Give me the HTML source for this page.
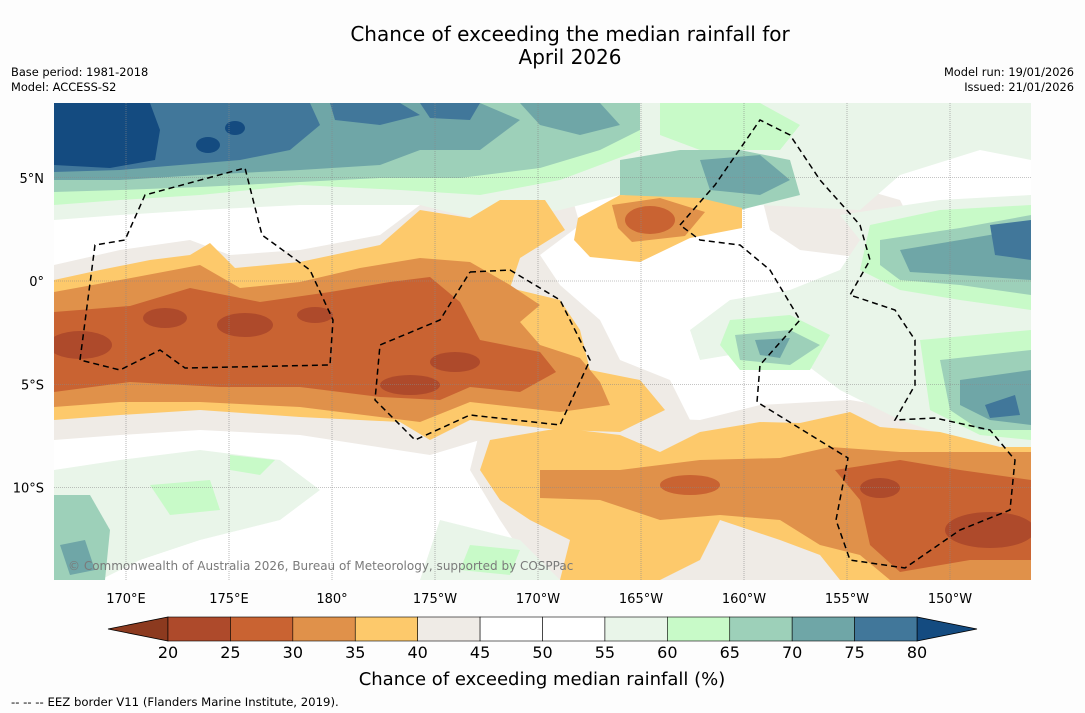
<!DOCTYPE html>
<html><head><meta charset="utf-8">
<style>
body{margin:0;background:#fdfdfd;width:1085px;height:713px;overflow:hidden;font-family:"DejaVu Sans","Liberation Sans",sans-serif;}
svg{position:absolute;left:0;top:0;font-family:"DejaVu Sans","Liberation Sans",sans-serif;}
</style></head>
<body>
<svg id="chart" width="1085" height="713" viewBox="0 0 1085 713">
<text x="570" y="41" font-size="20" text-anchor="middle" fill="#000">Chance of exceeding the median rainfall for</text>
<text x="570" y="64" font-size="20" text-anchor="middle" fill="#000">April 2026</text>
<text x="11" y="76" font-size="11.4">Base period: 1981-2018</text>
<text x="11" y="91" font-size="11.4">Model: ACCESS-S2</text>
<text x="1074" y="76" font-size="11.4" text-anchor="end">Model run: 19/01/2026</text>
<text x="1074" y="91" font-size="11.4" text-anchor="end">Issued: 21/01/2026</text>
<defs><clipPath id="mc"><rect x="54" y="103" width="977" height="477"/></clipPath></defs>
<g clip-path="url(#mc)">
<rect x="54" y="103" width="977" height="477" fill="#ffffff"/>
<g fill="#efebe6">
<path d="M54,265 L120,250 L190,240 L230,255 L300,250 L380,235 L420,205 L470,205 L500,188 L570,190 L580,225 L540,255 L560,285 L600,320 L620,360 L670,380 L690,420 L650,445 L560,445 L480,440 L430,455 L300,435 L200,430 L120,435 L54,440Z"/>
<path d="M480,430 L560,415 L700,420 L760,405 L850,400 L940,415 L1031,430 L1031,580 L540,580 L500,520 L470,470Z"/>
<path d="M760,190 L830,180 L900,200 L920,240 L880,260 L800,250 L770,230Z"/>
<path d="M1000,103 L1031,103 L1031,140 L1000,140Z"/>
<path d="M900,280 L960,275 L1000,300 L960,330 L900,320Z"/>
</g>
<g fill="#e9f5e9">
<path d="M54,103 L1031,103 L1031,160 L980,150 L900,175 L860,210 L760,205 L700,210 L640,190 L560,210 L480,220 L420,205 L300,205 L200,210 L120,215 L54,220Z"/>
<path d="M840,215 L940,200 L1031,195 L1031,450 L960,440 L900,420 L840,390 L800,360 L760,350 L700,360 L690,330 L730,300 L790,290 L840,270 L860,240Z"/>
<path d="M54,470 L120,460 L200,450 L280,460 L320,490 L280,520 L200,540 L140,560 L100,580 L54,580Z"/>
<path d="M440,520 L520,540 L560,580 L420,580Z"/>
</g>
<g fill="#c8fac8">
<path d="M54,103 L640,103 L640,150 L600,165 L560,180 L480,195 L400,190 L300,185 L200,195 L120,200 L54,205Z"/>
<path d="M660,103 L760,103 L800,125 L780,150 L700,150 L660,135Z"/>
<path d="M870,225 L940,210 L1031,205 L1031,310 L960,300 L900,290 L860,270Z"/>
<path d="M730,320 L790,315 L830,335 L810,370 L740,370 L720,345Z"/>
<path d="M920,340 L1031,330 L1031,440 L980,435 L930,410Z"/>
<path d="M150,485 L210,480 L220,510 L170,515Z"/>
<path d="M230,455 L275,460 L260,475 L230,470Z"/>
<path d="M470,545 L520,550 L510,575 L460,570Z"/>
</g>
<g fill="#9dd0b9">
<path d="M54,103 L640,103 L640,130 L600,150 L540,168 L460,178 L380,178 L300,182 L200,187 L120,190 L54,192Z"/>
<path d="M620,160 L680,150 L740,150 L790,160 L800,195 L740,210 L680,200 L620,195Z"/>
<path d="M880,240 L960,228 L1031,215 L1031,295 L960,285 L900,280 L880,265Z"/>
<path d="M940,360 L1031,350 L1031,430 L980,430 L950,410Z"/>
<path d="M735,335 L790,330 L820,345 L790,365 L740,360Z"/>
<path d="M54,495 L90,495 L110,530 L105,580 L54,580Z"/>
</g>
<g fill="#6fa6a7">
<path d="M54,103 L480,103 L520,120 L480,150 L420,150 L380,165 L300,170 L200,175 L120,180 L54,180Z"/>
<path d="M520,103 L600,103 L620,125 L580,135 L540,125Z"/>
<path d="M700,160 L760,155 L790,180 L760,195 L710,190Z"/>
<path d="M900,250 L960,240 L1031,228 L1031,280 L960,275 L910,272Z"/>
<path d="M960,380 L1031,370 L1031,425 L990,420 L960,405Z"/>
<path d="M755,340 L790,338 L780,358 L760,355Z"/>
<path d="M60,545 L85,540 L95,570 L70,575Z"/>
</g>
<g fill="#41779a">
<path d="M54,103 L310,103 L320,125 L290,150 L240,160 L180,165 L120,170 L54,172Z"/>
<path d="M330,103 L400,103 L420,115 L380,125 L335,120Z"/>
<path d="M420,103 L480,103 L470,120 L430,118Z"/>
<path d="M990,225 L1031,220 L1031,260 L995,255Z"/>
<path d="M985,405 L1015,395 L1020,415 L990,418Z"/>
</g>
<g fill="#144b80">
<path d="M54,103 L150,103 L160,130 L155,160 L110,168 L54,165Z"/>
<ellipse cx="208" cy="145" rx="12" ry="8"/><ellipse cx="235" cy="128" rx="10" ry="7"/>
</g>
<g fill="#fdc96b">
<path d="M54,280 L100,270 L150,260 L190,255 L210,243 L235,268 L300,262 L380,245 L420,210 L470,218 L500,200 L545,200 L565,230 L520,258 L510,288 L560,300 L580,330 L590,370 L640,380 L665,410 L620,432 L560,430 L470,420 L430,440 L400,422 L300,417 L200,410 L120,415 L54,420Z"/>
<path d="M578,218 L620,195 L700,198 L742,208 L742,228 L690,238 L640,262 L590,257 L574,240Z"/>
<path d="M490,440 L560,428 L620,435 L660,452 L700,432 L760,422 L800,423 L850,412 L880,427 L940,432 L1000,447 L1031,447 L1031,580 L840,580 L820,555 L780,540 L720,520 L700,560 L660,580 L560,580 L570,540 L530,520 L500,500 L480,470Z"/>
</g>
<g fill="#e0914a">
<path d="M54,292 L120,280 L200,265 L240,288 L300,282 L360,268 L420,258 L470,262 L510,285 L540,305 L520,322 L540,345 L580,358 L600,382 L610,405 L560,412 L470,402 L420,422 L300,407 L200,402 L120,402 L54,407Z"/>
<path d="M612,205 L660,198 L705,212 L685,236 L632,242 L618,228Z"/>
<path d="M540,470 L620,470 L700,460 L780,458 L830,447 L900,452 L1031,452 L1031,580 L890,580 L860,555 L820,545 L780,520 L720,515 L660,520 L600,500 L540,498Z"/>
</g>
<g fill="#c96332">
<path d="M54,312 L130,306 L190,288 L260,302 L330,292 L390,282 L430,277 L460,302 L480,340 L540,352 L556,372 L520,392 L470,387 L440,400 L380,397 L300,387 L220,387 L130,382 L54,392Z"/>
<ellipse cx="650" cy="220" rx="25" ry="14"/>
<path d="M835,470 L900,460 L960,470 L1031,480 L1031,560 L970,560 L900,572 L870,545 L860,500Z"/>
<ellipse cx="690" cy="485" rx="30" ry="10"/>
</g>
<g fill="#ae4a2b">
<ellipse cx="165" cy="318" rx="22" ry="10"/><ellipse cx="245" cy="325" rx="28" ry="12"/>
<ellipse cx="80" cy="345" rx="32" ry="14"/><ellipse cx="410" cy="385" rx="30" ry="10"/>
<ellipse cx="455" cy="362" rx="25" ry="10"/><ellipse cx="315" cy="315" rx="18" ry="8"/>
<ellipse cx="990" cy="530" rx="45" ry="18"/><ellipse cx="880" cy="488" rx="20" ry="10"/>
</g>
<g stroke="#888" stroke-width="0.6" stroke-dasharray="1,1" id="grid"></g>
<g fill="none" stroke="#000" stroke-width="1.5" stroke-dasharray="6,4">
<path d="M80,360 L95,245 L125,240 L145,195 L245,168 L262,235 L310,270 L333,320 L330,365 L185,368 L160,350 L120,370 L80,360"/>
<path d="M470,272 L510,270 L560,300 L590,360 L560,425 L470,415 L415,440 L375,400 L380,345 L440,320 L470,272"/>
<path d="M680,225 L715,185 L760,120 L790,135 L820,180 L860,225 L870,260 L850,295 L895,310 L915,340 L915,385 L895,420 L935,418 L990,430 L1015,460 L1010,510 L960,530 L905,568 L850,560 L836,520 L848,458 L757,402 L760,365 L800,320 L770,270 L740,245 L700,240 L680,225"/>
</g>
<text x="68" y="570" font-size="12" fill="#7a7a7a">© Commonwealth of Australia 2026, Bureau of Meteorology, supported by COSPPac</text>
</g>
<g id="xticks"></g>
<g id="yticks"></g>
<g id="cbar"></g>
<text x="542" y="685" font-size="18" text-anchor="middle">Chance of exceeding median rainfall (%)</text>
<text x="11" y="706" font-size="11.7">--  --  -- EEZ border V11 (Flanders Marine Institute, 2019).</text>
</svg>
<script>
const lonLabels=["170°E","175°E","180°","175°W","170°W","165°W","160°W","155°W","150°W"];
const lonValues=[170,175,180,185,190,195,200,205,210];
const latLabels=["5°N","0°","5°S","10°S"];
const latValues=[5,0,-5,-10];
const cbLevels=[20,25,30,35,40,45,50,55,60,65,70,75,80];
const cbColors=["#ae4a2b","#c96332","#e0914a","#fdc96b","#efebe6","#ffffff","#ffffff","#e9f5e9","#c8fac8","#9dd0b9","#6fa6a7","#41779a"];
const NS="http://www.w3.org/2000/svg";
const xLon=v=>126+(v-170)*20.6;
const yLat=v=>281-v*20.65;
const xCb=v=>168+(v-20)*(917-168)/60;
function mk(t,a,p){const e=document.createElementNS(NS,t);for(const k in a)e.setAttribute(k,a[k]);p.appendChild(e);return e;}
const grid=document.getElementById('grid'),xt=document.getElementById('xticks'),yt=document.getElementById('yticks'),cb=document.getElementById('cbar');
lonValues.forEach((v,i)=>{const x=xLon(v);
 const l=mk('line',{x1:x,x2:x,y1:103,y2:580},grid);
 
 
 const t=mk('text',{x:x,y:603,'font-size':13,'text-anchor':'middle'},xt);t.textContent=lonLabels[i];
 
 });
latValues.forEach((v,i)=>{const y=yLat(v);
 const l=mk('line',{x1:54,x2:1031,y1:y,y2:y},grid);
 
 
 const t=mk('text',{x:44,y:y+5,'font-size':13,'text-anchor':'end'},yt);t.textContent=latLabels[i];
 
 });
const lt=mk('path',{d:`M108,629 L${xCb(20)},617 L${xCb(20)},641Z`,fill:'#8c3a1f',stroke:'#000','stroke-width':0.8},cb);


const rt=mk('path',{d:`M977,629 L${xCb(80)},617 L${xCb(80)},641Z`,fill:'#144b80',stroke:'#000','stroke-width':0.8},cb);


cbColors.forEach((c,i)=>{const x0=xCb(cbLevels[i]),x1=xCb(cbLevels[i+1]);
 const r=mk('rect',{x:x0,y:617,width:x1-x0,height:24,fill:c,stroke:'#000','stroke-width':0.6},cb);
 
 });
cbLevels.forEach(v=>{const t=mk('text',{x:xCb(v),y:658,'font-size':16,'text-anchor':'middle'},cb);t.textContent=v;
 
 });
</script>
</body></html>
